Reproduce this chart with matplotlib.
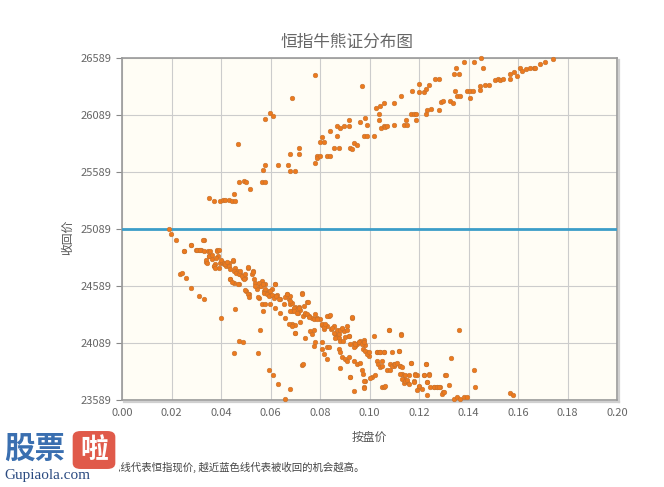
import matplotlib
matplotlib.use("Agg")
import matplotlib.pyplot as plt
from matplotlib.patches import FancyBboxPatch, Rectangle
from matplotlib.lines import Line2D

plt.rcParams['font.family'] = ['Noto Sans CJK SC', 'DejaVu Sans']

# ---- data ----
title = "恒指牛熊证分布图"
x_label = "按盘价"
y_label = "收回价"
note = "注：蓝色线代表恒指现价, 越近蓝色线代表被收回的机会越高。"
index_level = 25089
x_ticks = [0.00, 0.02, 0.04, 0.06, 0.08, 0.10, 0.12, 0.14, 0.16, 0.18, 0.20]
y_ticks = [23589, 24089, 24589, 25089, 25589, 26089, 26589]

# bear certificates (call level above the index)
bear_x = [0.0350, 0.0370, 0.0397, 0.0408, 0.0418, 0.0431, 0.0444, 0.0458, 0.0451, 0.0471,
          0.0492, 0.0502, 0.0519, 0.0570, 0.0566, 0.0579, 0.0579, 0.0579, 0.0597, 0.0610,
          0.0467, 0.0629, 0.0669, 0.0680, 0.0680, 0.0699, 0.0714, 0.0714, 0.0687, 0.0778,
          0.0778, 0.0788, 0.0799, 0.0808, 0.0818, 0.0788, 0.0801, 0.0828, 0.0839, 0.0839,
          0.0858, 0.0869, 0.0869, 0.0879, 0.0878, 0.0898, 0.0917, 0.0917, 0.0920, 0.0929,
          0.0936, 0.0949, 0.0960, 0.0976, 0.0990, 0.0980, 0.0990, 0.0970, 0.1020, 0.1028,
          0.1041, 0.1037, 0.1040, 0.1046, 0.1057, 0.1064, 0.1071, 0.1060, 0.1098, 0.1100,
          0.1127, 0.1141, 0.1149, 0.1152, 0.1168, 0.1173, 0.1181, 0.1187, 0.1189, 0.1199,
          0.1200, 0.1222, 0.1228, 0.1239, 0.1230, 0.1232, 0.1248, 0.1266, 0.1279, 0.1279,
          0.1289, 0.1297, 0.1327, 0.1337, 0.1340, 0.1347, 0.1351, 0.1360, 0.1354, 0.1367,
          0.1380, 0.1394, 0.1407, 0.1407, 0.1418, 0.1421, 0.1445, 0.1451, 0.1459, 0.1445,
          0.1468, 0.1481, 0.1508, 0.1518, 0.1529, 0.1539, 0.1569, 0.1566, 0.1582, 0.1596,
          0.1607, 0.1616, 0.1634, 0.1650, 0.1663, 0.1670, 0.1690, 0.1710, 0.1741]
bear_y = [25361, 25338, 25338, 25346, 25340, 25340, 25338, 25338, 25399, 25501,
          25507, 25498, 25440, 25604, 25501, 25501, 25653, 26057, 26107, 26077,
          25835, 25653, 25653, 25750, 25595, 25601, 25800, 25750, 26238, 26443,
          25668, 25726, 25849, 25896, 25849, 25712, 25726, 25726, 25726, 25952,
          25800, 25902, 25995, 25975, 25800, 25995, 25995, 26048, 25800, 25791,
          25843, 25829, 26028, 25902, 25902, 26063, 25998, 26340, 25908, 26150,
          26165, 26101, 26048, 25975, 25990, 25984, 25995, 26194, 26004, 26194,
          26253, 26004, 26048, 26004, 26101, 26300, 26101, 26101, 26042, 26361,
          26291, 26291, 26317, 26355, 26101, 26130, 26142, 26405, 26405, 26130,
          26200, 26209, 26209, 26194, 26452, 26297, 26501, 26452, 26253, 26253,
          26551, 26297, 26297, 26238, 26297, 26551, 26340, 26589, 26501, 26305,
          26355, 26355, 26399, 26405, 26399, 26405, 26452, 26405, 26463, 26428,
          26501, 26472, 26493, 26501, 26501, 26501, 26539, 26551, 26580]

# bull certificates (call level below the index)
bull_x = [0.0189, 0.0198, 0.0220, 0.0249, 0.0279, 0.0300, 0.0310, 0.0319, 0.0330, 0.0346,
          0.0350, 0.0341, 0.0364, 0.0370, 0.0377, 0.0384, 0.0387, 0.0391, 0.0397, 0.0404,
          0.0411, 0.0422, 0.0431, 0.0438, 0.0448, 0.0451, 0.0458, 0.0465, 0.0471, 0.0478,
          0.0489, 0.0498, 0.0502, 0.0512, 0.0509, 0.0525, 0.0529, 0.0539, 0.0545, 0.0552,
          0.0559, 0.0566, 0.0572, 0.0579, 0.0586, 0.0593, 0.0597, 0.0606, 0.0613, 0.0620,
          0.0626, 0.0640, 0.0653, 0.0660, 0.0667, 0.0673, 0.0680, 0.0687, 0.0694, 0.0700,
          0.0710, 0.0721, 0.0727, 0.0731, 0.0741, 0.0747, 0.0754, 0.0768, 0.0777, 0.0788,
          0.0799, 0.0808, 0.0815, 0.0828, 0.0835, 0.0844, 0.0855, 0.0862, 0.0869, 0.0875,
          0.0882, 0.0889, 0.0898, 0.0909, 0.0916, 0.0929, 0.0936, 0.0943, 0.0949, 0.0956,
          0.0963, 0.0976, 0.0983, 0.0990, 0.0997, 0.1017, 0.1030, 0.1041, 0.1051, 0.1057,
          0.1077, 0.1084, 0.1091, 0.1098, 0.1104, 0.1118, 0.1125, 0.1127, 0.1131, 0.1138,
          0.1145, 0.1152, 0.1158, 0.1168, 0.1178, 0.1185, 0.1192, 0.1199, 0.1212, 0.1219,
          0.1230, 0.1232, 0.1239, 0.1259, 0.1273, 0.1286, 0.1297, 0.1306, 0.1320, 0.1329,
          0.1340, 0.1354, 0.1360, 0.1367, 0.1380, 0.1394, 0.1421, 0.1428, 0.1569, 0.1580,
          0.0233, 0.0242, 0.0260, 0.0279, 0.0310, 0.0330, 0.0400, 0.0458, 0.0471, 0.0489,
          0.0451, 0.0548, 0.0559, 0.0593, 0.0610, 0.0630, 0.0680, 0.0660, 0.0727, 0.0778,
          0.0920, 0.0982, 0.0976, 0.0936]
bull_y = [25089, 25048, 24990, 24900, 24947, 24903, 24909, 24903, 24996, 24894,
          24856, 24798, 24822, 24763, 24778, 24903, 24856, 24749, 24792, 24798,
          24778, 24763, 24792, 24647, 24807, 24618, 24749, 24720, 24604, 24691,
          24662, 24662, 24545, 24516, 24749, 24691, 24720, 24612, 24560, 24487,
          24589, 24633, 24545, 24604, 24525, 24545, 24508, 24560, 24502, 24604,
          24508, 24473, 24429, 24496, 24516, 24473, 24429, 24371, 24386, 24409,
          24356, 24380, 24525, 24327, 24342, 24449, 24322, 24304, 24298, 24304,
          24298, 24246, 24211, 24240, 24327, 24211, 24234, 24168, 24138, 24130,
          24109, 24211, 24197, 24234, 24153, 24304, 24089, 24066, 24080, 24095,
          24109, 24118, 24072, 24008, 23979, 24153, 24008, 24008, 23935, 24008,
          24205, 23906, 24008, 23891, 23906, 24022, 23891, 24168, 23819, 23775,
          23804, 23746, 23810, 23915, 23760, 23819, 23804, 23702, 23688, 23804,
          23906, 23746, 23819, 23702, 23702, 23702, 23659, 23804, 23717, 23955,
          23601, 23615, 24205, 23601, 23615, 23615, 23848, 23702, 23653, 23630,
          24691, 24705, 24656, 24574, 24502, 24479, 24304, 24391, 24109, 24101,
          24002, 24002, 24202, 23848, 23804, 23731, 23688, 23601, 23900, 24342,
          23795, 23760, 23702, 23665]

# more bull certificates in the dense middle of the band
bull_more_x = [0.0680, 0.0687, 0.0694, 0.0707, 0.0714, 0.0727, 0.0734, 0.0741, 0.0747, 0.0754,
               0.0750, 0.0687, 0.0700, 0.0718, 0.0700, 0.0741, 0.0761, 0.0768, 0.0777, 0.0774,
               0.0781, 0.0788, 0.0808, 0.0815, 0.0822, 0.0828, 0.0842, 0.0848, 0.0855, 0.0862,
               0.0869, 0.0875, 0.0882, 0.0889, 0.0893, 0.0902, 0.0909, 0.0916, 0.0929, 0.0808,
               0.0808, 0.0815, 0.0828, 0.0835, 0.0828, 0.0875, 0.0882, 0.0889, 0.0879, 0.0902,
               0.0909, 0.0916, 0.0920, 0.0923, 0.0936, 0.0939, 0.0943, 0.0956, 0.0970, 0.0976,
               0.0974, 0.0983, 0.0990, 0.0997, 0.0949, 0.0963, 0.0970, 0.0974, 0.0976, 0.0979,
               0.1010, 0.1024, 0.1030, 0.1037, 0.1044, 0.1057, 0.1030, 0.1033, 0.1041, 0.1051,
               0.1071, 0.1084, 0.1091, 0.1098, 0.1104, 0.1111, 0.1118, 0.1125, 0.1131, 0.1125,
               0.1131, 0.1138, 0.1145, 0.1152, 0.1158, 0.1168, 0.1178, 0.1185, 0.1192, 0.1199,
               0.1219, 0.1229, 0.1232, 0.1239, 0.1232, 0.1246, 0.1259, 0.1273, 0.1279, 0.1293,
               0.1300, 0.1310, 0.1051, 0.1057, 0.1064, 0.1003, 0.1077, 0.1129, 0.0730,
               0.0303, 0.0317, 0.0330, 0.0327, 0.0279, 0.0249, 0.0341, 0.0343, 0.0354, 0.0350,
               0.0364, 0.0370, 0.0377, 0.0384, 0.0391, 0.0381, 0.0400, 0.0411, 0.0418, 0.0424,
               0.0431, 0.0438, 0.0448, 0.0451, 0.0462, 0.0471, 0.0478, 0.0485, 0.0492, 0.0498,
               0.0509, 0.0529, 0.0532, 0.0539, 0.0552, 0.0562, 0.0570, 0.0572, 0.0579, 0.0586,
               0.0593, 0.0599, 0.0606, 0.0613, 0.0620, 0.0624, 0.0633, 0.0438, 0.0444, 0.0467,
               0.0498, 0.0508, 0.0512, 0.0548, 0.0566, 0.0579, 0.0599, 0.0570, 0.0620, 0.0640,
               0.0660, 0.0667, 0.0680, 0.0673, 0.0687, 0.0700, 0.0680, 0.0694, 0.0707, 0.0714]
bull_more_y = [24502, 24444, 24400, 24377, 24406, 24522, 24415, 24356, 24342, 24313,
               24452, 24255, 24249, 24269, 24173, 24133, 24191, 24167, 24202, 24066,
               24095, 24298, 24255, 24226, 24255, 24327, 24336, 24220, 24173, 24133,
               24202, 24167, 24202, 24220, 24109, 24138, 24202, 24153, 24313, 24095,
               24037, 23993, 24057, 24057, 23949, 24037, 24008, 23964, 23871, 23949,
               23935, 23970, 23795, 24080, 23935, 24057, 24080, 24095, 24080, 24095,
               24037, 24022, 23993, 24008, 23906, 23912, 23854, 23819, 23760, 23697,
               23795, 23804, 24008, 24008, 24008, 24008, 23935, 23906, 23877, 23891,
               23848, 23854, 23891, 23906, 23906, 23912, 24022, 23891, 23877, 23819,
               23775, 23737, 23760, 23766, 23731, 23912, 23746, 23804, 23673, 23708,
               23804, 23906, 23746, 23804, 23630, 23702, 23702, 23702, 23702, 23644,
               23659, 23804, 23702, 23702, 23708, 23784, 24202, 24162, 23906,
               24909, 24909, 24900, 24996, 24947, 24900, 24813, 24792, 24894, 24851,
               24865, 24763, 24749, 24900, 24909, 24836, 24813, 24792, 24778, 24801,
               24763, 24734, 24813, 24720, 24705, 24691, 24720, 24676, 24647, 24691,
               24755, 24714, 24647, 24589, 24618, 24589, 24604, 24531, 24560, 24516,
               24502, 24545, 24511, 24481, 24609, 24502, 24473, 24647, 24627, 24604,
               24551, 24516, 24493, 24493, 24429, 24435, 24429, 24371, 24394, 24348,
               24304, 24516, 24458, 24255, 24240, 24173, 24371, 24371, 24356, 24400]

# ---- figure ----
fig = plt.figure(figsize=(6.64, 4.87), dpi=100)
fig.patch.set_facecolor('white')
ax = fig.add_axes([122/664, 1 - 400/487, 495/664, 342/487])
ax.set_facecolor('#fffdf5')

ax.set_xlim(0, 0.20)
ax.set_ylim(23589, 26589)
ax.set_xticks(x_ticks)
ax.set_yticks(y_ticks)
ax.set_xticklabels([f"{v:.2f}" for v in x_ticks])
ax.set_yticklabels([str(v) for v in y_ticks])
ax.grid(True, color='#cccccc', linewidth=0.8)
ax.set_axisbelow(True)

for side in ['top', 'right', 'bottom', 'left']:
    ax.spines[side].set_color('#9a9a9a')
    ax.spines[side].set_linewidth(1.2)

# soft shadow on right and bottom edges
for xs, ys in [([1.004, 1.004], [-0.006, 0.995]), ([0.005, 1.004], [-0.006, -0.006])]:
    ax.add_line(Line2D(xs, ys, transform=ax.transAxes, color='#d0d0d0', linewidth=1.6,
                       clip_on=False, zorder=0))

ax.tick_params(axis='both', colors='#666666', labelsize=8, length=4, width=0.8)
ax.tick_params(axis='x', length=0, pad=6)
ax.tick_params(axis='y', color='#888888')

ax.axhline(index_level, color='#3c9dc8', linewidth=2, zorder=3)

marker_kw = dict(s=11, color='#ec7a1e', edgecolors='#c4722f', linewidths=0.4,
                 zorder=4, clip_on=False)
ax.scatter(bear_x, bear_y, **marker_kw)
ax.scatter(bull_x, bull_y, **marker_kw)
ax.scatter(bull_more_x, bull_more_y, **marker_kw)

fig.text(347/664, 1 - 42/487, title, ha='center', va='center', fontsize=12, color='#666666')
fig.text(369/664, 1 - 437/487, x_label, ha='center', va='center', fontsize=8.5, color='#555555')
fig.text(68/664, 1 - 237/487, y_label, ha='center', va='center', fontsize=8.5,
         color='#555555', rotation=90)
fig.text(79/664, 1 - 467/487, note, ha='left', va='center', fontsize=7.5, color='#444444')

# watermark logo
fig.patches.append(Rectangle((0, 0), 119/664, 50/487, transform=fig.transFigure,
                             facecolor='white', edgecolor='none', zorder=5))
fig.text(4/664, 1 - 449/487, "股票", ha='left', va='center', fontsize=22, fontweight='bold',
         color='#3a6fb0', zorder=6)
fig.patches.append(FancyBboxPatch((74/664, 1 - 468/487), 40/664, 36/487,
                                  boxstyle='round,pad=0.002,rounding_size=0.012',
                                  transform=fig.transFigure, facecolor='#e05a4a',
                                  edgecolor='none', zorder=6))
fig.text(94/664, 1 - 450/487, "啦", ha='center', va='center', fontsize=20, fontweight='bold',
         color='white', zorder=7)
fig.text(4/664, 1 - 475/487, "Gupiaola.com", ha='left', va='center', fontsize=11,
         family='Liberation Serif', color='#2a4a80', zorder=7)

fig.savefig('out.png', dpi=100)
